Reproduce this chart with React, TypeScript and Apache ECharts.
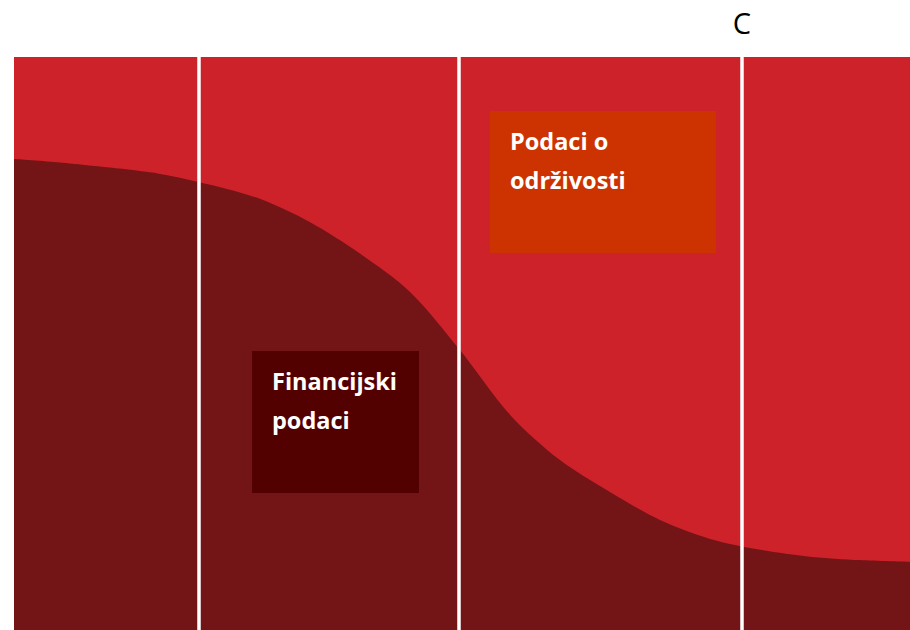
import React, { useEffect, useRef } from "react";
import * as echarts from "echarts";

// Share curve of financial data (x: position across the panel in %, y: height in %)
const curveX = [0, 5.1, 10.7, 16.3, 21.9, 27.5, 33.0, 38.6, 44.2, 49.7, 55.4, 60.9, 66.5, 72.1, 77.7, 83.3, 88.8, 94.4, 100];
const curveY = [82.2, 81.6, 80.7, 79.6, 77.7, 75.2, 71.2, 65.7, 59.0, 49.0, 37.5, 29.7, 24.1, 19.2, 15.9, 14.0, 12.8, 12.2, 11.9];

// Vertical dividers and their top labels
const dividerX = [20.65, 49.67, 81.25];
const dividerLabels = ["", "", "C"];

const financialLabel = "Financijski\npodaci";
const sustainLabel = "Podaci o\nodrživosti";

export default function App() {
  const ref = useRef<HTMLDivElement>(null);
  useEffect(() => {
    if (!ref.current) return;
    const chart = echarts.init(ref.current, null, { renderer: "svg" });
    const font = "'Open Sans', 'Noto Sans', sans-serif";
    chart.setOption({
      animation: false,
      grid: {
        left: 14,
        right: 0,
        top: 57,
        bottom: 0,
        show: true,
        backgroundColor: "#CD2229",
        borderWidth: 0,
      },
      xAxis: { type: "value", min: 0, max: 100, show: false },
      yAxis: { type: "value", min: 0, max: 100, show: false },
      series: [
        {
          type: "line",
          data: curveX.map((x, i) => [x, curveY[i]]),
          smooth: 0.3,
          showSymbol: false,
          symbol: "none",
          lineStyle: { width: 0 },
          areaStyle: { color: "#731416", opacity: 1, origin: "start" },
          silent: true,
          z: 2,
          markLine: {
            silent: true,
            symbol: "none",
            z: 5,
            lineStyle: { color: "#ffffff", width: 3.5, type: "solid", opacity: 1 },
            data: dividerX.map((x, i) => ({
              xAxis: x,
              label: {
                show: dividerLabels[i] !== "",
                formatter: dividerLabels[i],
                position: "end",
                distance: 20,
                color: "#000000",
                fontSize: 29,
                fontFamily: font,
              },
            })),
          },
        },
      ],
      graphic: [
        {
          type: "rect",
          z: 10,
          shape: { x: 252, y: 351, width: 167, height: 142 },
          style: { fill: "#530000" },
        },
        {
          type: "text",
          z: 11,
          x: 272,
          y: 361,
          style: {
            text: financialLabel,
            fill: "#ffffff",
            font: `bold 23.5px ${font}`,
            lineHeight: 39,
          },
        },
        {
          type: "rect",
          z: 10,
          shape: { x: 490, y: 111, width: 226, height: 142 },
          style: { fill: "#CC3300" },
        },
        {
          type: "text",
          z: 11,
          x: 510,
          y: 121,
          style: {
            text: sustainLabel,
            fill: "#ffffff",
            font: `bold 23.5px ${font}`,
            lineHeight: 39,
          },
        },
      ],
    });
    return () => chart.dispose();
  }, []);
  return (
    <div
      ref={ref}
      style={{ position: "fixed", left: 0, top: 0, width: 910, height: 630, background: "#ffffff" }}
    />
  );
}
